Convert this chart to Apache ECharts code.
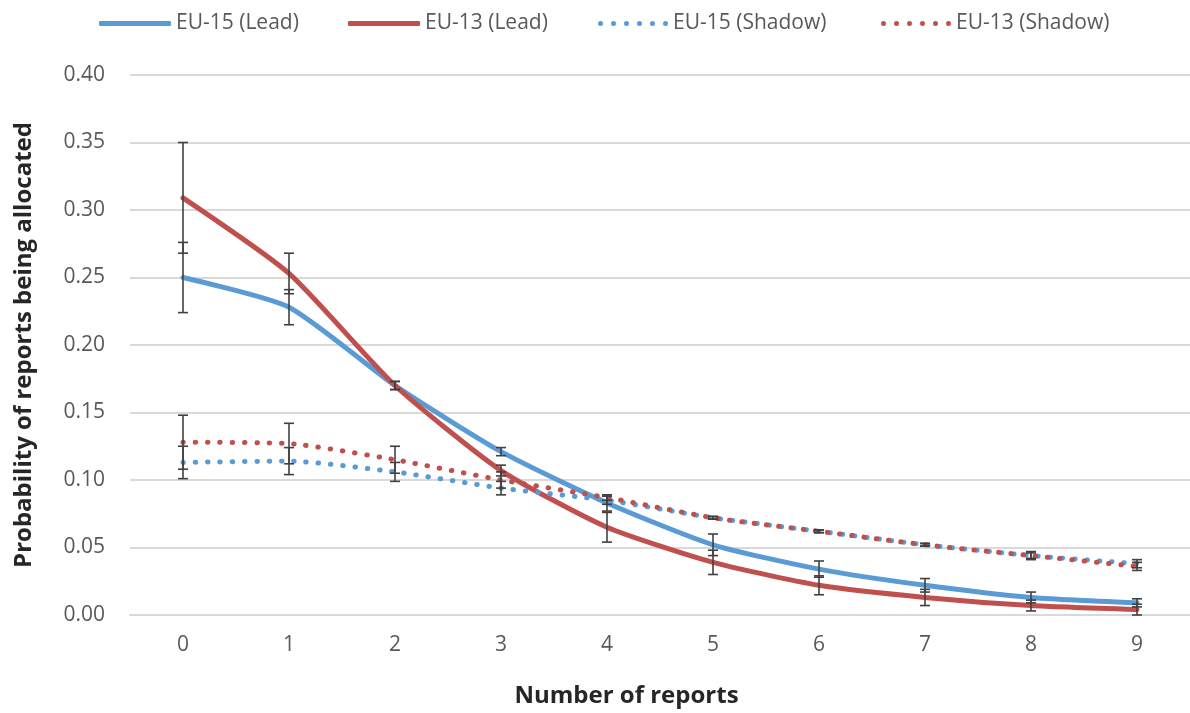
<!DOCTYPE html>
<html>
<head>
<meta charset="utf-8">
<script src="https://cdn.jsdelivr.net/npm/echarts@6/dist/echarts.min.js"></script>
<style>html,body{margin:0;padding:0;background:#fff;}#c{width:1190px;height:713px;}</style>
</head>
<body>
<div id="c"></div>
<script>
const categories = ['0','1','2','3','4','5','6','7','8','9'];
const seriesNames = ['EU-15 (Lead)','EU-13 (Lead)','EU-15 (Shadow)','EU-13 (Shadow)'];
const eu15Lead      = [0.250, 0.228, 0.170, 0.121, 0.083, 0.052, 0.034, 0.022, 0.013, 0.009];
const eu15LeadErr   = [0.026, 0.013, 0.003, 0.003, 0.006, 0.008, 0.006, 0.005, 0.004, 0.003];
const eu13Lead      = [0.309, 0.253, 0.170, 0.107, 0.065, 0.039, 0.022, 0.013, 0.007, 0.004];
const eu13LeadErr   = [0.041, 0.015, 0.003, 0.004, 0.011, 0.009, 0.007, 0.006, 0.004, 0.004];
const eu15Shadow    = [0.113, 0.114, 0.106, 0.094, 0.085, 0.072, 0.062, 0.052, 0.044, 0.038];
const eu15ShadowErr = [0.012, 0.010, 0.007, 0.005, 0.003, 0.001, 0.001, 0.001, 0.002, 0.003];
const eu13Shadow    = [0.128, 0.127, 0.115, 0.100, 0.087, 0.072, 0.062, 0.052, 0.044, 0.036];
const eu13ShadowErr = [0.020, 0.015, 0.010, 0.006, 0.002, 0.001, 0.001, 0.001, 0.003, 0.003];
const yTicks = { min: 0, max: 0.4, interval: 0.05 };
const xTitle = 'Number of reports';
const yTitle = 'Probability of reports being allocated';

const BLUE = '#5B9BD5', RED = '#C0504D', FONT = '"Open Sans", "Noto Sans", sans-serif';

function errData(v, e) { return v.map((y, i) => [i, y - e[i], y + e[i]]); }
function renderErr(params, api) {
  const x = api.value(0);
  const p1 = api.coord([x, api.value(2)]);
  const p2 = api.coord([x, api.value(1)]);
  const w = 5;
  const st = { stroke: '#404040', lineWidth: 1.6 };
  return { type: 'group', children: [
    { type: 'line', shape: { x1: p1[0], y1: p1[1], x2: p2[0], y2: p2[1] }, style: st },
    { type: 'line', shape: { x1: p1[0]-w, y1: p1[1], x2: p1[0]+w, y2: p1[1] }, style: st },
    { type: 'line', shape: { x1: p2[0]-w, y1: p2[1], x2: p2[0]+w, y2: p2[1] }, style: st }
  ]};
}
function lineSeries(name, data, color, dotted) {
  return {
    name, type: 'line', data, smooth: 0.2, symbol: 'none', z: 2,
    lineStyle: dotted ? { color, width: 5, type: [0.5, 11.8], cap: 'round' } : { color, width: 5, cap: 'round' },
    itemStyle: { color }
  };
}
function errSeries(v, e) {
  return { type: 'custom', renderItem: renderErr, data: errData(v, e), z: 5, silent: true };
}
const dotIcon = 'path://' + [2.5, 15.5, 28.5, 41.5, 54.5, 67.5]
  .map(c => 'M' + (c - 2.5) + ',2.5a2.5,2.5 0 1,0 5,0a2.5,2.5 0 1,0 -5,0Z').join('');
const legendLefts = [94, 343, 593, 876];
const legendIcons = ['roundRect', 'roundRect', dotIcon, dotIcon];
const legends = seriesNames.map((n, i) => ({
  data: [{ name: n, icon: legendIcons[i] }], left: legendLefts[i], top: 8,
  itemWidth: i < 2 ? 72 : 70, itemHeight: 5, itemGap: 6,
  textStyle: { fontFamily: FONT, fontSize: 21, color: '#595959' }
}));

const chart = echarts.init(document.getElementById('c'), null, { renderer: 'canvas' });
chart.setOption({
  animation: false,
  backgroundColor: '#fff',
  legend: legends,
  grid: { left: 130, top: 75, width: 1067, height: 540, containLabel: false },
  xAxis: {
    type: 'category', data: categories, boundaryGap: true,
    axisLine: { lineStyle: { color: '#d9d9d9', width: 2 } }, axisTick: { show: false },
    axisLabel: { fontFamily: FONT, fontSize: 21, color: '#595959', margin: 20 },
    name: xTitle, nameLocation: 'middle', nameGap: 69,
    nameTextStyle: { fontFamily: FONT, fontSize: 24, fontWeight: 'bold', color: '#262626', padding: [0, 67, 0, 0] }
  },
  yAxis: {
    type: 'value', min: yTicks.min, max: yTicks.max, interval: yTicks.interval,
    axisLine: { show: false }, axisTick: { show: false },
    splitLine: { lineStyle: { color: '#d9d9d9', width: 2 } },
    axisLabel: { fontFamily: FONT, fontSize: 21, color: '#595959', margin: 25, formatter: v => v.toFixed(2) },
    name: yTitle, nameLocation: 'middle', nameGap: 94, nameRotate: 90,
    nameTextStyle: { fontFamily: FONT, fontSize: 24, fontWeight: 'bold', color: '#262626' }
  },
  series: [
    lineSeries(seriesNames[0], eu15Lead, BLUE, false),
    lineSeries(seriesNames[1], eu13Lead, RED, false),
    lineSeries(seriesNames[2], eu15Shadow, BLUE, true),
    lineSeries(seriesNames[3], eu13Shadow, RED, true),
    errSeries(eu15Lead, eu15LeadErr),
    errSeries(eu13Lead, eu13LeadErr),
    errSeries(eu15Shadow, eu15ShadowErr),
    errSeries(eu13Shadow, eu13ShadowErr)
  ]
});
</script>
</body>
</html>
